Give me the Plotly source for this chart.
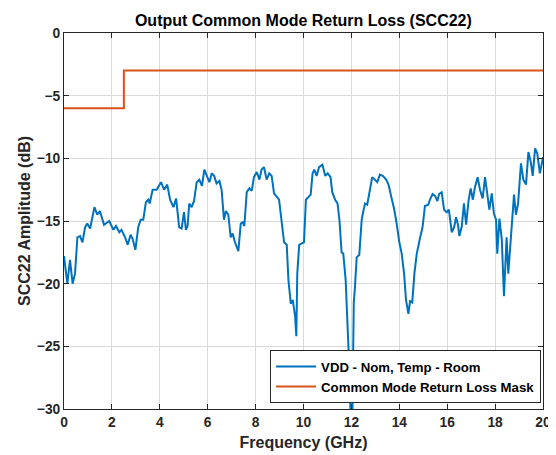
import plotly.graph_objects as go

# measured SCC22 trace (GHz, dB)
freq_ghz = [
    0.0, 0.14, 0.25, 0.36, 0.46, 0.56, 0.67, 0.77, 0.88, 0.97, 1.09, 1.27, 1.39, 1.50,
    1.67, 1.89, 2.06, 2.17, 2.31, 2.40, 2.55, 2.66, 2.78, 2.86, 2.98, 3.10, 3.20, 3.31,
    3.42, 3.52, 3.58, 3.70, 3.87, 4.05, 4.18, 4.31, 4.43, 4.57, 4.68, 4.81, 4.91, 5.01,
    5.09, 5.16, 5.23, 5.33, 5.43, 5.54, 5.65, 5.76, 5.86, 5.96, 6.07, 6.17, 6.27, 6.37,
    6.49, 6.58, 6.68, 6.76, 6.86, 6.96, 7.04, 7.14, 7.28, 7.38, 7.46, 7.53, 7.63, 7.74,
    7.84, 7.93, 8.05, 8.16, 8.25, 8.35, 8.46, 8.57, 8.67, 8.77, 8.88, 8.98, 9.09, 9.19,
    9.30, 9.37, 9.47, 9.55, 9.65, 9.70, 9.74, 9.82, 9.91, 10.02, 10.10, 10.20, 10.30,
    10.38, 10.45, 10.55, 10.65, 10.79, 10.91, 11.01, 11.13, 11.20, 11.32, 11.42, 11.50,
    11.59, 11.66, 11.76, 11.84, 11.93, 11.98, 12.04, 12.07, 12.10, 12.15, 12.22, 12.33,
    12.43, 12.50, 12.57, 12.66, 12.78, 12.87, 12.98, 13.08, 13.19, 13.31, 13.45, 13.55,
    13.68, 13.78, 13.89, 14.00, 14.10, 14.20, 14.28, 14.38, 14.45, 14.54, 14.63, 14.73,
    14.86, 14.97, 15.07, 15.21, 15.28, 15.39, 15.49, 15.59, 15.66, 15.77, 15.87, 15.98,
    16.07, 16.19, 16.29, 16.37, 16.45, 16.51, 16.61, 16.70, 16.79, 16.89, 16.98, 17.07,
    17.16, 17.27, 17.37, 17.48, 17.58, 17.67, 17.76, 17.86, 17.95, 18.04, 18.09, 18.18,
    18.28, 18.37, 18.48, 18.55, 18.65, 18.79, 18.87, 18.96, 19.08, 19.18, 19.29, 19.39,
    19.49, 19.57, 19.67, 19.76, 19.87, 20.0,
]
scc22_db = [
    -17.8, -20.0, -18.1, -20.0, -19.2, -16.3, -16.2, -16.7, -15.5, -15.2, -15.6, -13.9, -14.5, -14.2,
    -15.3, -15.0, -15.7, -15.4, -15.9, -15.7, -16.3, -16.9, -16.1, -16.4, -17.3, -15.5, -14.9, -14.9,
    -13.5, -13.3, -13.6, -12.5, -12.5, -11.9, -12.5, -12.1, -13.3, -13.9, -13.2, -15.5, -15.6, -14.3,
    -15.7, -15.4, -13.6, -13.9, -13.4, -11.9, -11.7, -12.2, -10.9, -11.4, -11.9, -11.2, -11.4, -12.0,
    -11.8, -12.5, -14.9, -14.2, -14.5, -16.3, -16.0, -16.7, -17.4, -15.2, -15.1, -15.4, -12.7, -12.4,
    -12.6, -11.5, -11.1, -11.7, -10.9, -10.7, -11.7, -11.2, -11.4, -12.8, -13.1, -13.3, -15.1, -16.7,
    -16.9, -19.7, -21.6, -21.3, -22.6, -24.2, -19.2, -16.9, -16.8, -16.7, -13.3, -13.1, -12.9,
    -11.2, -10.9, -11.4, -10.7, -10.5, -11.4, -11.2, -11.5, -12.7, -13.3, -13.6, -14.9,
    -17.5, -17.6, -19.7, -22.9, -27.5, -32.0, -31.0, -26.0, -21.5, -20.2, -17.9, -17.7,
    -14.9, -14.2, -13.6, -13.7, -12.3, -11.5, -11.7, -11.9, -11.3, -11.4, -11.7, -12.1,
    -13.2, -14.0, -15.2, -16.7, -17.6, -19.2, -21.3, -22.4, -21.4, -21.5, -19.2, -17.6,
    -16.4, -15.5, -13.8, -13.7, -13.3, -12.85, -13.0, -13.4, -12.85, -12.7, -14.1, -14.3,
    -14.1, -15.9, -15.5, -14.7, -15.3, -16.2, -15.4, -13.6, -15.3, -13.4, -12.4, -13.3,
    -12.3, -11.5, -12.5, -13.2, -11.5, -12.7, -14.1, -12.8, -14.4, -14.9, -17.6, -14.8,
    -16.5, -21.0, -16.3, -19.2, -16.5, -12.9, -14.5, -13.6, -10.4, -11.7, -12.1, -9.5,
    -10.3, -11.4, -9.2, -9.6, -11.2, -9.9,
]

# return loss mask (step at 2.5 GHz)
mask_freq_ghz = [0.0, 2.5, 2.5, 20.0]
mask_db = [-6.0, -6.0, -3.0, -3.0]

x_ticks = list(range(0, 21, 2))
y_ticks = list(range(-30, 1, 5))

FONT = "Liberation Sans, Arial, Helvetica, sans-serif"
TEXT = "#262626"

fig = go.Figure()
fig.add_trace(
    go.Scatter(
        x=freq_ghz,
        y=scc22_db,
        mode="lines",
        line=dict(color="#0072BD", width=2),
        name="VDD - Nom, Temp - Room",
    )
)
fig.add_trace(
    go.Scatter(
        x=mask_freq_ghz,
        y=mask_db,
        mode="lines",
        line=dict(color="#D95319", width=2),
        name="Common Mode Return Loss Mask",
    )
)

axis_style = dict(
    showline=True,
    linecolor=TEXT,
    linewidth=1,
    mirror="ticks",
    ticks="inside",
    ticklen=5,
    tickcolor=TEXT,
    showgrid=True,
    gridcolor="#dadada",
    gridwidth=1,
    zeroline=False,
    automargin=False,
    tickfont=dict(family=FONT, size=13.8, color=TEXT, weight="bold"),
    title_font=dict(family=FONT, size=16, color=TEXT, weight="bold"),
)

fig.update_xaxes(
    range=[0, 20],
    tickvals=x_ticks,
    title_text="Frequency (GHz)",
    title_standoff=8,
    **axis_style,
)
fig.update_yaxes(
    range=[-30, 0],
    tickvals=y_ticks,
    title_text="SCC22 Amplitude (dB)",
    title_standoff=2,
    **axis_style,
)

# page body adds an 8px offset, so the figure is 8px smaller than the window
fig.update_layout(
    width=548,
    height=447,
    plot_bgcolor="white",
    paper_bgcolor="white",
    margin=dict(l=56, r=13, t=25, b=46),
    title=dict(
        text="Output Common Mode Return Loss (SCC22)",
        x=0.539,
        xanchor="center",
        y=0.973,
        yanchor="middle",
        font=dict(family=FONT, size=16, color="black", weight="bold"),
    ),
    legend=dict(
        x=0.996,
        y=0.015,
        xanchor="right",
        yanchor="bottom",
        bgcolor="white",
        bordercolor=TEXT,
        borderwidth=1,
        font=dict(family=FONT, size=13.2, color="black", weight="bold"),
        tracegroupgap=0,
        itemwidth=40,
    ),
    showlegend=True,
)

fig.write_html("out.html")
